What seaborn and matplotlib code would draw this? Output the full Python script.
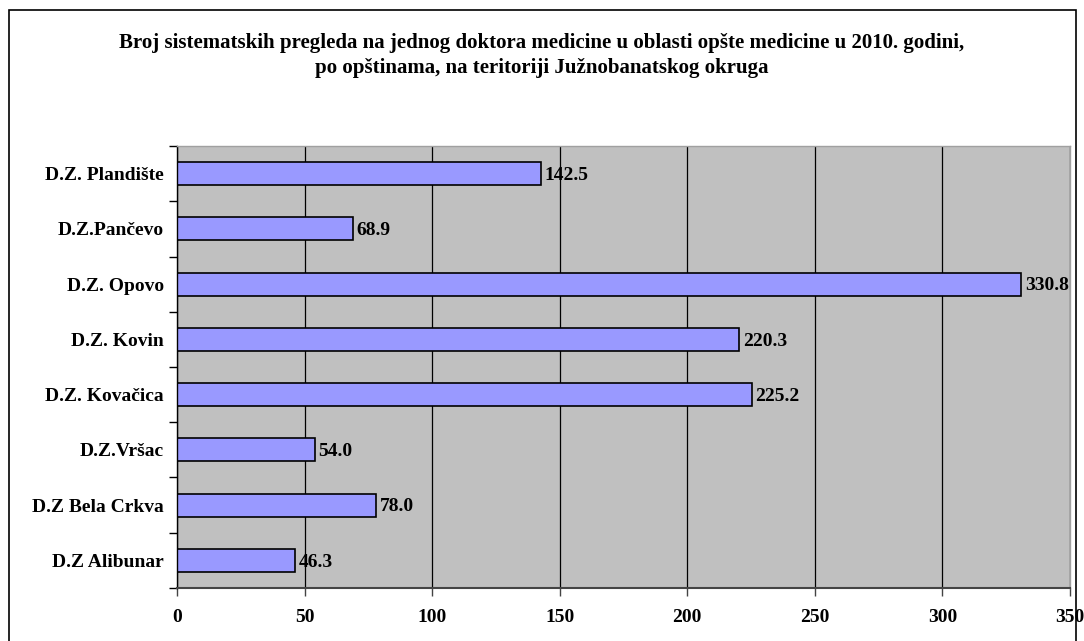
import matplotlib
matplotlib.use("Agg")
import matplotlib.pyplot as plt
import seaborn as sns
import pandas as pd

# values (top to bottom)
categories = ["D.Z. Plandište", "D.Z.Pančevo", "D.Z. Opovo", "D.Z. Kovin",
              "D.Z. Kovačica", "D.Z.Vršac", "D.Z Bela Crkva", "D.Z Alibunar"]
values = [142.5, 68.9, 330.8, 220.3, 225.2, 54.0, 78.0, 46.3]
x_ticks = [0, 50, 100, 150, 200, 250, 300, 350]

title = ("Broj sistematskih pregleda na jednog doktora medicine u oblasti opšte medicine u 2010. godini,\n"
         "po opštinama, na teritoriji Južnobanatskog okruga")

df = pd.DataFrame({"opstina": categories, "vrednost": values})

sns.set_style("white")
plt.rcParams["font.family"] = ["Liberation Serif", "DejaVu Serif"]
plt.rcParams["font.weight"] = "bold"
plt.rcParams["text.color"] = "black"
plt.rcParams["xtick.color"] = "black"
plt.rcParams["ytick.color"] = "black"

fig = plt.figure(figsize=(10.84, 6.41), dpi=100)
ax = fig.add_axes([0.1633, 0.0827, 0.8238, 0.6895])
ax.set_facecolor("#C0C0C0")

sns.barplot(data=df, x="vrednost", y="opstina", ax=ax, color="#9999FF",
            edgecolor="black", linewidth=1.2, width=0.42, saturation=1, orient="h")

ax.set_xlim(0, 350)
ax.set_xticks(x_ticks)
ax.set_xticklabels([str(t) for t in x_ticks], fontsize=14, fontweight="bold")
ax.xaxis.grid(True, color="black", linewidth=0.9)
ax.set_axisbelow(True)
ax.set_xlabel("")
ax.set_ylabel("")

# y ticks between categories, labels centred on bars
n = len(categories)
ax.set_ylim(n - 0.5, -0.5)
ax.set_yticks(range(n))
ax.set_yticklabels(categories, fontsize=14, fontweight="bold")
ax.tick_params(axis="y", which="major", left=True, length=0, pad=9.5)
ax.set_yticks([i - 0.5 for i in range(n + 1)], minor=True)
ax.tick_params(axis="y", which="minor", left=True, length=6, width=1, color="black", direction="out")
ax.tick_params(axis="x", bottom=True, length=6, width=1, color="#444444", direction="out", pad=9)

for s in ["top", "right"]:
    ax.spines[s].set_color("#A0A0A0")
    ax.spines[s].set_linewidth(1)
ax.spines["left"].set_color("black")
ax.spines["left"].set_linewidth(1)
ax.spines["bottom"].set_color("#444444")
ax.spines["bottom"].set_linewidth(1.5)

for i, v in enumerate(values):
    ax.text(v + 1.5, i + 0.03, f"{v:.1f}", va="center", ha="left", fontsize=14,
            fontweight="bold", color="black")

fig.text(0.5, 0.9134, title, ha="center", va="center", fontsize=15, fontweight="bold",
         linespacing=1.3, color="black")

# outer chart border
fig.add_artist(plt.Rectangle((9 / 1084, -0.05), 1067 / 1084, 1.05 - 10 / 641,
                             transform=fig.transFigure, fill=False,
                             edgecolor="black", linewidth=1.2))

fig.savefig("out.png", dpi=100)
